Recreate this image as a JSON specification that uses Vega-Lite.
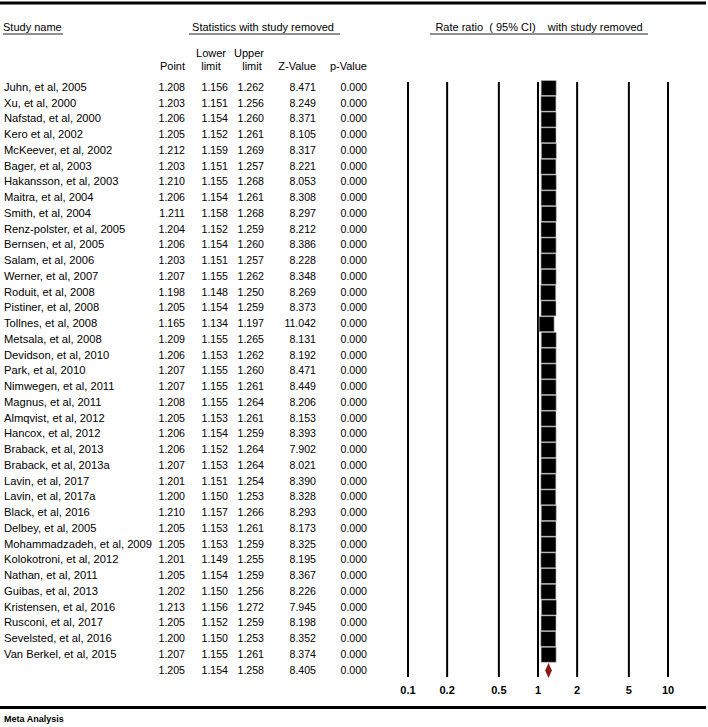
{
  "$schema": "https://vega.github.io/schema/vega-lite/v6.json",
  "width": 708,
  "height": 727,
  "padding": 0,
  "autosize": {"type": "none"},
  "background": "white",
  "config": {
    "view": {"stroke": null},
    "font": "Liberation Sans",
    "text": {"font": "Liberation Sans", "fontSize": 11.2, "color": "black", "baseline": "middle"}
  },
  "datasets": {
    "studies": [
      {"row": 1, "kind": "study", "study": "Juhn, et al, 2005", "point": 1.208, "lower": 1.156, "upper": 1.262, "z": 8.471, "p": 0},
      {"row": 2, "kind": "study", "study": "Xu, et al, 2000", "point": 1.203, "lower": 1.151, "upper": 1.256, "z": 8.249, "p": 0},
      {"row": 3, "kind": "study", "study": "Nafstad, et al, 2000", "point": 1.206, "lower": 1.154, "upper": 1.260, "z": 8.371, "p": 0},
      {"row": 4, "kind": "study", "study": "Kero et al, 2002", "point": 1.205, "lower": 1.152, "upper": 1.261, "z": 8.105, "p": 0},
      {"row": 5, "kind": "study", "study": "McKeever, et al, 2002", "point": 1.212, "lower": 1.159, "upper": 1.269, "z": 8.317, "p": 0},
      {"row": 6, "kind": "study", "study": "Bager, et al, 2003", "point": 1.203, "lower": 1.151, "upper": 1.257, "z": 8.221, "p": 0},
      {"row": 7, "kind": "study", "study": "Hakansson, et al, 2003", "point": 1.210, "lower": 1.155, "upper": 1.268, "z": 8.053, "p": 0},
      {"row": 8, "kind": "study", "study": "Maitra, et al, 2004", "point": 1.206, "lower": 1.154, "upper": 1.261, "z": 8.308, "p": 0},
      {"row": 9, "kind": "study", "study": "Smith, et al, 2004", "point": 1.211, "lower": 1.158, "upper": 1.268, "z": 8.297, "p": 0},
      {"row": 10, "kind": "study", "study": "Renz-polster, et al, 2005", "point": 1.204, "lower": 1.152, "upper": 1.259, "z": 8.212, "p": 0},
      {"row": 11, "kind": "study", "study": "Bernsen, et al, 2005", "point": 1.206, "lower": 1.154, "upper": 1.260, "z": 8.386, "p": 0},
      {"row": 12, "kind": "study", "study": "Salam, et al, 2006", "point": 1.203, "lower": 1.151, "upper": 1.257, "z": 8.228, "p": 0},
      {"row": 13, "kind": "study", "study": "Werner, et al, 2007", "point": 1.207, "lower": 1.155, "upper": 1.262, "z": 8.348, "p": 0},
      {"row": 14, "kind": "study", "study": "Roduit, et al, 2008", "point": 1.198, "lower": 1.148, "upper": 1.250, "z": 8.269, "p": 0},
      {"row": 15, "kind": "study", "study": "Pistiner, et al, 2008", "point": 1.205, "lower": 1.154, "upper": 1.259, "z": 8.373, "p": 0},
      {"row": 16, "kind": "study", "study": "Tollnes, et al, 2008", "point": 1.165, "lower": 1.134, "upper": 1.197, "z": 11.042, "p": 0},
      {"row": 17, "kind": "study", "study": "Metsala, et al, 2008", "point": 1.209, "lower": 1.155, "upper": 1.265, "z": 8.131, "p": 0},
      {"row": 18, "kind": "study", "study": "Devidson, et al, 2010", "point": 1.206, "lower": 1.153, "upper": 1.262, "z": 8.192, "p": 0},
      {"row": 19, "kind": "study", "study": "Park, et al, 2010", "point": 1.207, "lower": 1.155, "upper": 1.260, "z": 8.471, "p": 0},
      {"row": 20, "kind": "study", "study": "Nimwegen, et al, 2011", "point": 1.207, "lower": 1.155, "upper": 1.261, "z": 8.449, "p": 0},
      {"row": 21, "kind": "study", "study": "Magnus, et al, 2011", "point": 1.208, "lower": 1.155, "upper": 1.264, "z": 8.206, "p": 0},
      {"row": 22, "kind": "study", "study": "Almqvist, et al, 2012", "point": 1.205, "lower": 1.153, "upper": 1.261, "z": 8.153, "p": 0},
      {"row": 23, "kind": "study", "study": "Hancox, et al, 2012", "point": 1.206, "lower": 1.154, "upper": 1.259, "z": 8.393, "p": 0},
      {"row": 24, "kind": "study", "study": "Braback, et al, 2013", "point": 1.206, "lower": 1.152, "upper": 1.264, "z": 7.902, "p": 0},
      {"row": 25, "kind": "study", "study": "Braback, et al, 2013a", "point": 1.207, "lower": 1.153, "upper": 1.264, "z": 8.021, "p": 0},
      {"row": 26, "kind": "study", "study": "Lavin, et al, 2017", "point": 1.201, "lower": 1.151, "upper": 1.254, "z": 8.390, "p": 0},
      {"row": 27, "kind": "study", "study": "Lavin, et al, 2017a", "point": 1.200, "lower": 1.150, "upper": 1.253, "z": 8.328, "p": 0},
      {"row": 28, "kind": "study", "study": "Black, et al, 2016", "point": 1.210, "lower": 1.157, "upper": 1.266, "z": 8.293, "p": 0},
      {"row": 29, "kind": "study", "study": "Delbey, et al, 2005", "point": 1.205, "lower": 1.153, "upper": 1.261, "z": 8.173, "p": 0},
      {"row": 30, "kind": "study", "study": "Mohammadzadeh, et al, 2009", "point": 1.205, "lower": 1.153, "upper": 1.259, "z": 8.325, "p": 0},
      {"row": 31, "kind": "study", "study": "Kolokotroni, et al, 2012", "point": 1.201, "lower": 1.149, "upper": 1.255, "z": 8.195, "p": 0},
      {"row": 32, "kind": "study", "study": "Nathan, et al, 2011", "point": 1.205, "lower": 1.154, "upper": 1.259, "z": 8.367, "p": 0},
      {"row": 33, "kind": "study", "study": "Guibas, et al, 2013", "point": 1.202, "lower": 1.150, "upper": 1.256, "z": 8.226, "p": 0},
      {"row": 34, "kind": "study", "study": "Kristensen, et al, 2016", "point": 1.213, "lower": 1.156, "upper": 1.272, "z": 7.945, "p": 0},
      {"row": 35, "kind": "study", "study": "Rusconi, et al, 2017", "point": 1.205, "lower": 1.152, "upper": 1.259, "z": 8.198, "p": 0},
      {"row": 36, "kind": "study", "study": "Sevelsted, et al, 2016", "point": 1.200, "lower": 1.150, "upper": 1.253, "z": 8.352, "p": 0},
      {"row": 37, "kind": "study", "study": "Van Berkel, et al, 2015", "point": 1.207, "lower": 1.155, "upper": 1.261, "z": 8.374, "p": 0},
      {"row": 38, "kind": "summary", "study": "", "point": 1.205, "lower": 1.154, "upper": 1.258, "z": 8.405, "p": 0}
    ],
    "ticks": [
      {"v": 0.1, "label": "0.1"},
      {"v": 0.2, "label": "0.2"},
      {"v": 0.5, "label": "0.5"},
      {"v": 1, "label": "1"},
      {"v": 2, "label": "2"},
      {"v": 5, "label": "5"},
      {"v": 10, "label": "10"}
    ],
    "one": [{"k": 1}]
  },
  "layer": [
    {
      "layer": [
        {
          "data": {"name": "studies"},
          "mark": {"type": "text", "align": "left"},
          "encoding": {
            "text": {"field": "study", "type": "nominal"},
            "x": {"datum": 4, "type": "quantitative", "scale": {"domain": [0, 708], "range": [0, 708], "zero": false, "nice": false}, "axis": null},
            "y": {"field": "row", "type": "quantitative", "scale": {"domain": [1, 38], "range": [88, 670.5], "zero": false, "nice": false}, "axis": null}
          }
        },
        {
          "data": {"name": "studies"},
          "mark": {"type": "text", "align": "right", "fontSize": 10.6},
          "encoding": {
            "text": {"field": "point", "type": "quantitative", "format": ".3f"},
            "x": {"datum": 185, "type": "quantitative"},
            "y": {"field": "row", "type": "quantitative"}
          }
        },
        {
          "data": {"name": "studies"},
          "mark": {"type": "text", "align": "right", "fontSize": 10.6},
          "encoding": {
            "text": {"field": "lower", "type": "quantitative", "format": ".3f"},
            "x": {"datum": 228, "type": "quantitative"},
            "y": {"field": "row", "type": "quantitative"}
          }
        },
        {
          "data": {"name": "studies"},
          "mark": {"type": "text", "align": "right", "fontSize": 10.6},
          "encoding": {
            "text": {"field": "upper", "type": "quantitative", "format": ".3f"},
            "x": {"datum": 264, "type": "quantitative"},
            "y": {"field": "row", "type": "quantitative"}
          }
        },
        {
          "data": {"name": "studies"},
          "mark": {"type": "text", "align": "right", "fontSize": 10.6},
          "encoding": {
            "text": {"field": "z", "type": "quantitative", "format": ".3f"},
            "x": {"datum": 316, "type": "quantitative"},
            "y": {"field": "row", "type": "quantitative"}
          }
        },
        {
          "data": {"name": "studies"},
          "mark": {"type": "text", "align": "right", "fontSize": 10.6},
          "encoding": {
            "text": {"field": "p", "type": "quantitative", "format": ".3f"},
            "x": {"datum": 367, "type": "quantitative"},
            "y": {"field": "row", "type": "quantitative"}
          }
        },
        {
          "data": {"name": "one"},
          "mark": {"type": "text", "align": "left", "text": "Study name", "fontSize": 11},
          "encoding": {"x": {"datum": 3, "type": "quantitative"}, "y": {"datum": -2.81, "type": "quantitative"}}
        },
        {
          "data": {"name": "one"},
          "mark": {"type": "text", "align": "center", "text": "Statistics with study removed", "fontSize": 11},
          "encoding": {"x": {"datum": 263, "type": "quantitative"}, "y": {"datum": -2.81, "type": "quantitative"}}
        },
        {
          "data": {"name": "one"},
          "mark": {"type": "text", "align": "center", "text": "Rate ratio\u00a0 (\u00a095% CI)\u00a0\u00a0\u00a0 with study removed", "fontSize": 11},
          "encoding": {"x": {"datum": 539, "type": "quantitative"}, "y": {"datum": -2.81, "type": "quantitative"}}
        },
        {
          "data": {"name": "one"},
          "mark": {"type": "text", "align": "center", "text": "Lower", "fontSize": 11},
          "encoding": {"x": {"datum": 211, "type": "quantitative"}, "y": {"datum": -1.16, "type": "quantitative"}}
        },
        {
          "data": {"name": "one"},
          "mark": {"type": "text", "align": "center", "text": "limit", "fontSize": 11},
          "encoding": {"x": {"datum": 211, "type": "quantitative"}, "y": {"datum": -0.33, "type": "quantitative"}}
        },
        {
          "data": {"name": "one"},
          "mark": {"type": "text", "align": "center", "text": "Upper", "fontSize": 11},
          "encoding": {"x": {"datum": 249, "type": "quantitative"}, "y": {"datum": -1.16, "type": "quantitative"}}
        },
        {
          "data": {"name": "one"},
          "mark": {"type": "text", "align": "center", "text": "limit", "fontSize": 11},
          "encoding": {"x": {"datum": 252, "type": "quantitative"}, "y": {"datum": -0.33, "type": "quantitative"}}
        },
        {
          "data": {"name": "one"},
          "mark": {"type": "text", "align": "right", "text": "Point", "fontSize": 11},
          "encoding": {"x": {"datum": 185, "type": "quantitative"}, "y": {"datum": -0.33, "type": "quantitative"}}
        },
        {
          "data": {"name": "one"},
          "mark": {"type": "text", "align": "right", "text": "Z-Value", "fontSize": 11},
          "encoding": {"x": {"datum": 316, "type": "quantitative"}, "y": {"datum": -0.33, "type": "quantitative"}}
        },
        {
          "data": {"name": "one"},
          "mark": {"type": "text", "align": "right", "text": "p-Value", "fontSize": 11},
          "encoding": {"x": {"datum": 367, "type": "quantitative"}, "y": {"datum": -0.33, "type": "quantitative"}}
        },
        {
          "data": {"name": "one"},
          "mark": {"type": "text", "align": "left", "text": "Meta Analysis", "fontSize": 9, "fontWeight": "bold"},
          "encoding": {"x": {"datum": 4, "type": "quantitative"}, "y": {"datum": 41.1, "type": "quantitative"}}
        },
        {
          "data": {"values": [
            {"a": 3, "b": 63, "r": -2.43},
            {"a": 189, "b": 340, "r": -2.43},
            {"a": 430, "b": 648, "r": -2.43}
          ]},
          "mark": {"type": "rule", "color": "#222", "strokeWidth": 1},
          "encoding": {
            "x": {"field": "a", "type": "quantitative"},
            "x2": {"field": "b"},
            "y": {"field": "r", "type": "quantitative"}
          }
        },
        {
          "data": {"values": [
            {"a": 0, "b": 706, "r": -4.4},
            {"a": 0, "b": 706, "r": 40.35}
          ]},
          "mark": {"type": "rule", "color": "black", "strokeWidth": 3},
          "encoding": {
            "x": {"field": "a", "type": "quantitative"},
            "x2": {"field": "b"},
            "y": {"field": "r", "type": "quantitative"}
          }
        }
      ]
    },
    {
      "layer": [
        {
          "data": {"name": "ticks"},
          "mark": {"type": "rule", "color": "black", "strokeWidth": 2},
          "encoding": {
            "x": {"field": "v", "type": "quantitative", "scale": {"type": "log", "domain": [0.1, 10], "range": [408, 668], "nice": false}, "axis": null},
            "y": {"datum": 0.62, "type": "quantitative"},
            "y2": {"datum": 38.41}
          }
        },
        {
          "data": {"name": "ticks"},
          "mark": {"type": "text", "align": "center", "fontWeight": "bold", "fontSize": 11},
          "encoding": {
            "text": {"field": "label", "type": "nominal"},
            "x": {"field": "v", "type": "quantitative"},
            "y": {"datum": 39.3, "type": "quantitative"}
          }
        },
        {
          "data": {"name": "studies"},
          "transform": [{"filter": "datum.kind === 'study'"}],
          "mark": {"type": "point", "shape": "square", "filled": true, "color": "black", "opacity": 1, "size": 225, "stroke": "#bbbbbb", "strokeWidth": 0.6},
          "encoding": {
            "x": {"field": "point", "type": "quantitative"},
            "y": {"field": "row", "type": "quantitative"}
          }
        },
        {
          "data": {"name": "studies"},
          "transform": [{"filter": "datum.kind === 'summary'"}],
          "mark": {"type": "point", "shape": "M-0.45,0L0,-1L0.45,0L0,1Z", "filled": true, "color": "#8b1a14", "opacity": 1, "size": 225},
          "encoding": {
            "x": {"field": "point", "type": "quantitative"},
            "y": {"field": "row", "type": "quantitative"}
          }
        }
      ]
    }
  ],
  "resolve": {"scale": {"x": "independent"}}
}
